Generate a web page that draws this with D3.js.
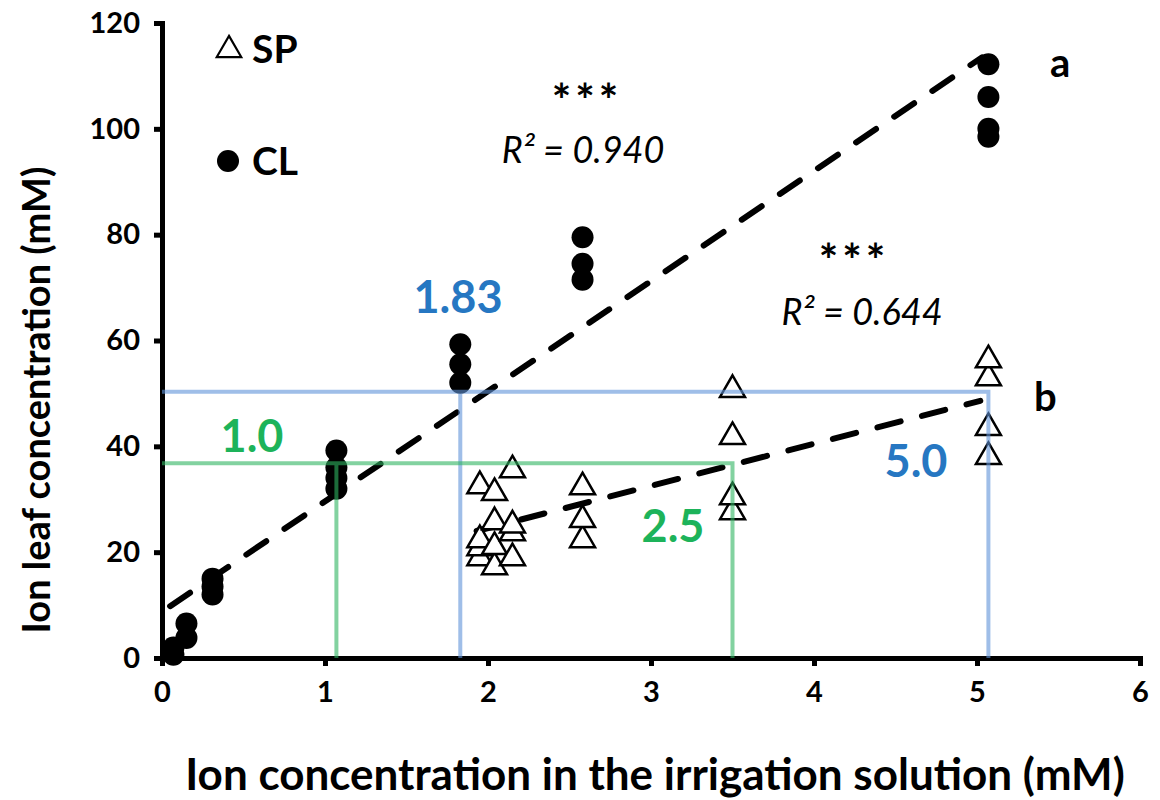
<!DOCTYPE html>
<html>
<head>
<meta charset="utf-8">
<script src="https://cdn.jsdelivr.net/npm/d3@7"></script>
<style>
  body { margin: 0; background: #fff; }
  svg { font-family: Lato, "Open Sans", sans-serif; }
</style>
</head>
<body>
<svg width="1160" height="800"></svg>
<script>
// CL (circles) measurements
const clX = [0.07, 0.07, 0.15, 0.15, 0.31, 0.31, 0.31, 1.07, 1.07, 1.07, 1.07, 1.83, 1.83, 1.83, 2.58, 2.58, 2.58, 5.07, 5.07, 5.07, 5.07];
const clY = [0.6, 2.0, 3.8, 6.5, 12.0, 13.5, 15.0, 32.0, 34.0, 36.0, 39.2, 52.0, 55.5, 59.3, 71.5, 74.5, 79.5, 98.5, 100.0, 106.0, 112.2];

// SP (triangles) measurements
const spX = [1.95, 1.95, 1.95, 1.95, 2.04, 2.04, 2.04, 2.04, 2.15, 2.15, 2.15, 2.15, 2.58, 2.58, 2.58, 3.5, 3.5, 3.5, 3.5, 5.07, 5.07, 5.07, 5.07];
const spY = [18.9, 20.8, 22.3, 32.5, 17.2, 21.0, 25.7, 31.2, 18.9, 23.6, 25.1, 35.5, 22.3, 26.1, 32.3, 27.6, 30.4, 41.8, 50.7, 38.0, 43.5, 52.9, 56.3];

// regression line end points
const lineA = [[0.05, 9.8], [5.03, 113.5]];
const lineB = [[1.93, 24.0], [5.02, 48.6]];

// guide lines: [x where it starts, x where it ends, y level]
const blueGuide = [1.83, 5.07, 50.3];
const greenGuide = [1.07, 3.5, 36.8];

const xTicks = [0, 1, 2, 3, 4, 5, 6];
const yTicks = [0, 20, 40, 60, 80, 100, 120];

const svg = d3.select("svg");
const x = d3.scaleLinear().domain([0, 6]).range([162, 1140]);
const y = d3.scaleLinear().domain([0, 120]).range([658, 23]);

const BLUE = "#2677c2", GREEN = "#1db35a";

// axes
const xAxis = svg.append("g")
    .attr("transform", `translate(0,${y(0)})`)
    .call(d3.axisBottom(x).tickValues(xTicks).tickFormat(d3.format("d"))
      .tickSize(8).tickSizeOuter(0).tickPadding(15));
const yAxis = svg.append("g")
    .attr("transform", `translate(${x(0)},0)`)
    .call(d3.axisLeft(y).tickValues(yTicks).tickFormat(d3.format("d"))
      .tickSize(8).tickSizeOuter(0).tickPadding(14));

[xAxis, yAxis].forEach(a => {
  a.select(".domain").attr("stroke-width", 5).attr("stroke-linecap", "square");
  a.selectAll(".tick line").attr("stroke-width", 5);
  a.selectAll(".tick text")
    .style("font-family", "Lato, sans-serif")
    .style("font-size", "29px")
    .style("font-weight", "bold")
    .attr("fill", "#000");
});

// regression lines
const line = d3.line().x(d => x(d[0])).y(d => y(d[1]));
[lineA, lineB].forEach(l => {
  svg.append("path")
    .attr("d", line(l))
    .attr("fill", "none")
    .attr("stroke", "#000")
    .attr("stroke-width", 6)
    .attr("stroke-dasharray", "24,22")
    .attr("stroke-linecap", "round");
});

// triangles
const tri = d3.symbol().type(d3.symbolTriangle).size(270);
svg.append("g").selectAll("path")
  .data(spX.map((v, i) => [v, spY[i]]))
  .join("path")
    .attr("d", tri)
    .attr("transform", d => `translate(${x(d[0])},${y(d[1])})`)
    .attr("fill", "#fff")
    .attr("stroke", "#000")
    .attr("stroke-width", 2.5);

// circles
svg.append("g").selectAll("circle")
  .data(clX.map((v, i) => [v, clY[i]]))
  .join("circle")
    .attr("cx", d => x(d[0]))
    .attr("cy", d => y(d[1]))
    .attr("r", 11)
    .attr("fill", "#000");

// guide lines on top, semi transparent
function guide(g, color) {
  const path = d3.path();
  path.moveTo(x(g[0]), y(0));
  path.lineTo(x(g[0]), y(g[2]));
  path.moveTo(x(0), y(g[2]));
  path.lineTo(x(g[1]), y(g[2]));
  path.lineTo(x(g[1]), y(0));
  svg.append("path")
    .attr("d", path.toString())
    .attr("fill", "none")
    .attr("stroke", color)
    .attr("stroke-width", 4)
    .attr("opacity", 0.6);
}
guide(blueGuide, "#5f93d9");
guide(greenGuide, "#2fb461");

// labels
function label(txt, px, py, opts = {}) {
  return svg.append("text")
    .attr("x", px).attr("y", py)
    .attr("text-anchor", opts.anchor || "middle")
    .attr("fill", opts.color || "#000")
    .style("font-size", (opts.size || 30) + "px")
    .style("font-weight", opts.italic ? "normal" : "bold")
    .style("font-style", opts.italic ? "italic" : "normal")
    .style("letter-spacing", opts.spacing || null)
    .text(txt);
}
label("1.83", 458, 313, {color: BLUE, size: 45});
label("1.0", 252, 452, {color: GREEN, size: 45});
label("2.5", 673, 542, {color: GREEN, size: 45});
label("5.0", 916, 477, {color: BLUE, size: 45});
label("***", 587, 117, {size: 46, spacing: "4px"});
label("R² = 0.940", 583, 163, {italic: true, size: 36});
label("***", 854, 277, {size: 46, spacing: "4px"});
label("R² = 0.644", 862, 325, {italic: true, size: 36});
label("a", 1050, 77, {anchor: "start", size: 40});
label("b", 1034, 411, {anchor: "start", size: 40});

// legend
svg.append("path").attr("d", d3.symbol().type(d3.symbolTriangle).size(260))
  .attr("transform", "translate(229,50)")
  .attr("fill", "#fff").attr("stroke", "#000").attr("stroke-width", 2.2);
label("SP", 252, 63, {anchor: "start", size: 39});
svg.append("circle").attr("cx", 228).attr("cy", 161).attr("r", 11).attr("fill", "#000");
label("CL", 252, 175, {anchor: "start", size: 39});

// axis titles
label("Ion concentration in the irrigation solution (mM)", 655, 790, {size: 44});
svg.append("text")
  .attr("transform", "translate(50,400) rotate(-90)")
  .attr("text-anchor", "middle")
  .style("font-size", "38px")
  .style("font-weight", "bold")
  .text("Ion leaf concentration (mM)");
</script>
</body>
</html>
